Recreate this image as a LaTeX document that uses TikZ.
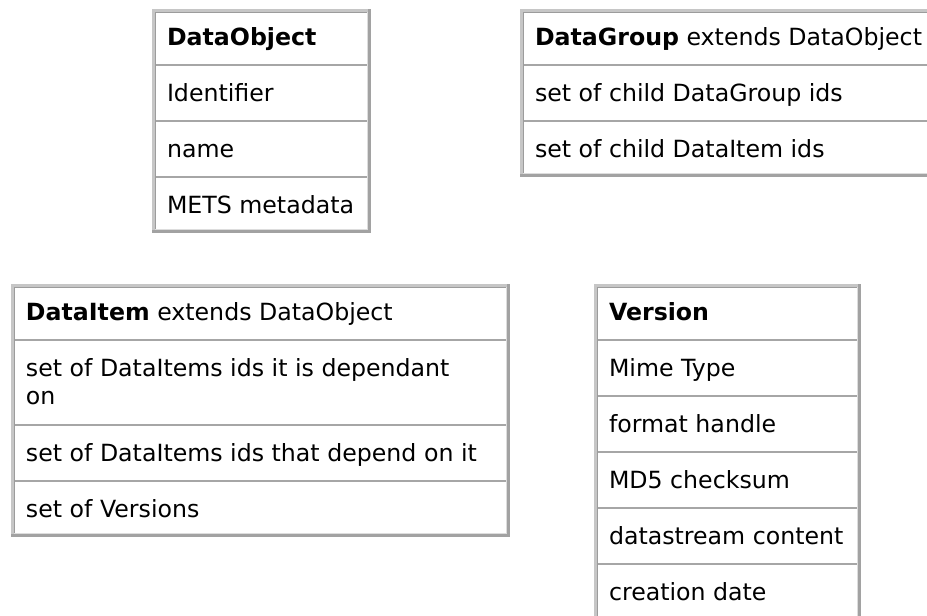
\documentclass[tikz,border=0pt]{standalone}
\usepackage{fontspec}
\setmainfont{DejaVu Sans}

\definecolor{frameLight}{HTML}{C6C6C6}
\definecolor{frameDark}{HTML}{A2A2A2}
\definecolor{cellDark}{HTML}{9C9C9C}
\definecolor{cellLight}{HTML}{DDDDDD}
\definecolor{sepGrey}{HTML}{A6A6A6}

\tikzset{
  x=0.75pt, y=-0.75pt,
  celltext/.style={anchor=base west, inner sep=0pt, outer sep=0pt,
                   font=\fontsize{17.75}{21}\selectfont, text=black},
}

% outset table frame: left, top, right, bottom, {row separators}
\newcommand\classframe[5]{%
  \fill[white] (#1,#2) rectangle (#3,#4);
  \foreach \s in {#5} {\fill[sepGrey] (#1,\s-1) rectangle (#3,\s+1);}
  % cell inset lines
  \fill[cellDark]  (#1+3,#2+3) rectangle (#1+4,#4-3);
  \fill[cellDark]  (#1+3,#2+3) rectangle (#3-3,#2+4);
  \fill[cellLight] (#3-4,#2+3) rectangle (#3-3,#4-3);
  \fill[cellLight] (#1+3,#4-4) rectangle (#3-3,#4-3);
  % table border
  \fill[frameLight] (#1,#2) rectangle (#3,#2+3);
  \fill[frameLight] (#1,#2) rectangle (#1+3,#4);
  \fill[frameDark]  (#3-3,#2) rectangle (#3,#4);
  \fill[frameDark]  (#1,#4-3) rectangle (#3,#4);
}

\begin{document}
\begin{tikzpicture}
  \path[use as bounding box, fill=white] (0,0) rectangle (927,615);
  \clip (0,0) rectangle (927,615);

  % DataObject
  \classframe{152}{9}{371}{233}{65,121,177}
  \node[celltext] (dobj)  at (167,45)  {\textbf{DataObject}};
  \node[celltext] (dobj1) at (167,101) {Identifier};
  \node[celltext] (dobj2) at (167,157) {name};
  \node[celltext] (dobj3) at (167,213) {METS metadata};

  % DataGroup
  \classframe{520}{9}{945}{177}{65,121}
  \node[celltext] (dgrp)  at (535,45)  {\textbf{DataGroup} extends DataObject};
  \node[celltext] (dgrp1) at (535,101) {set of child DataGroup ids};
  \node[celltext] (dgrp2) at (535,157) {set of child DataItem ids};

  % DataItem
  \classframe{11}{284}{510}{537}{340,425,481}
  \node[celltext] (ditm)   at (26,320)   {\textbf{DataItem} extends DataObject};
  \node[celltext] (ditm1a) at (26,376.5) {set of DataItems ids it is dependant};
  \node[celltext] (ditm1b) at (26,404.5) {on};
  \node[celltext] (ditm2)  at (26,461)   {set of DataItems ids that depend on it};
  \node[celltext] (ditm3)  at (26,517)   {set of Versions};

  % Version
  \classframe{594}{284}{861}{620}{340,396,452,508,564}
  \node[celltext] (ver)  at (609,320) {\textbf{Version}};
  \node[celltext] (ver1) at (609,376) {Mime Type};
  \node[celltext] (ver2) at (609,432) {format handle};
  \node[celltext] (ver3) at (609,488) {MD5 checksum};
  \node[celltext] (ver4) at (609,544) {datastream content};
  \node[celltext] (ver5) at (609,600) {creation date};
\end{tikzpicture}
\end{document}
